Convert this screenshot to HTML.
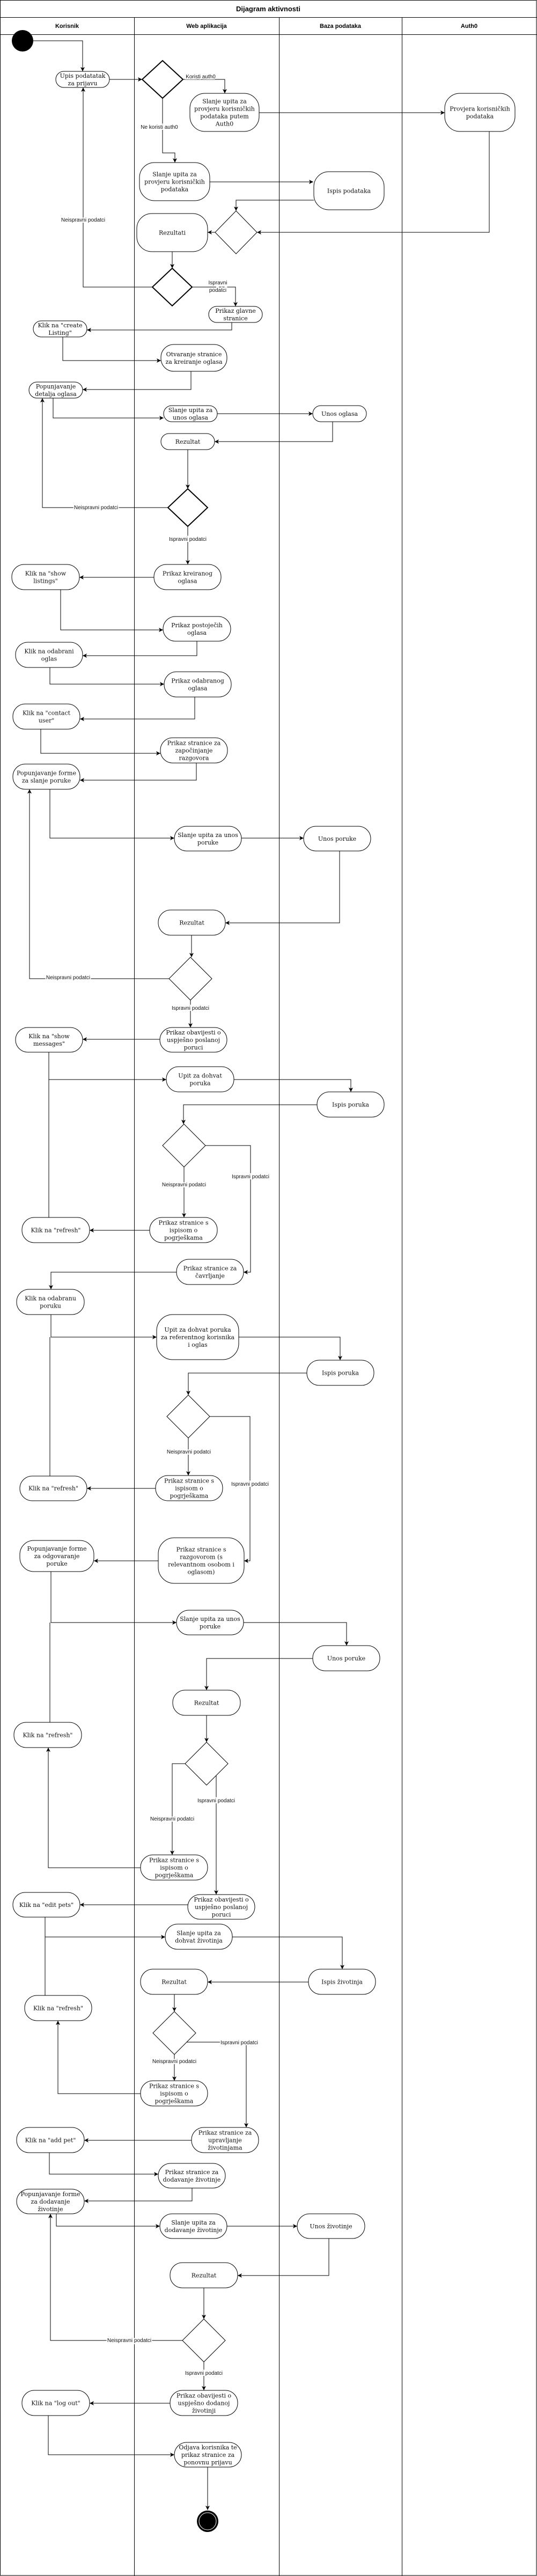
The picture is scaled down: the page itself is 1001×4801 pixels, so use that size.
<!DOCTYPE html>
<html><head><meta charset="utf-8"><style>
html,body{margin:0;padding:0;background:#fff;}
svg{display:block;}
.n{fill:#fff;stroke:#000;stroke-width:1;}
.t{font-family:"DejaVu Serif","Liberation Serif",serif;font-size:11px;text-anchor:middle;fill:#111;}
.e{fill:none;stroke:#000;stroke-width:1;}
.ea{fill:none;stroke:#000;stroke-width:1;marker-end:url(#a);}
.l{font-family:"Liberation Sans",sans-serif;font-size:10px;text-anchor:middle;fill:#111;paint-order:stroke;stroke:#fff;stroke-width:4px;}
.h{font-family:"Liberation Sans",sans-serif;font-weight:bold;text-anchor:middle;fill:#000;}
</style></head><body>
<svg width="1001" height="4801" viewBox="0 0 1001 4801" xmlns="http://www.w3.org/2000/svg">
<defs><marker id="a" markerUnits="userSpaceOnUse" markerWidth="10" markerHeight="10" refX="8" refY="4" orient="auto"><path d="M0,0 L8,4 L0,8 L2,4 z" fill="#000"/></marker></defs>
<rect x="0.5" y="0.5" width="999.5" height="4799.5" fill="#fff" stroke="#000"/>
<line x1="0" y1="32.5" x2="1001" y2="32.5" stroke="#000"/>
<line x1="0" y1="64.5" x2="1001" y2="64.5" stroke="#000"/>
<line x1="250.5" y1="32" x2="250.5" y2="4801" stroke="#000"/>
<line x1="520.5" y1="32" x2="520.5" y2="4801" stroke="#000"/>
<line x1="749.5" y1="32" x2="749.5" y2="4801" stroke="#000"/>
<text class="h" x="500" y="21" font-size="13">Dijagram aktivnosti</text>
<text class="h" x="125" y="52" font-size="11">Korisnik</text>
<text class="h" x="385" y="52" font-size="11">Web aplikacija</text>
<text class="h" x="634.5" y="52" font-size="11">Baza podataka</text>
<text class="h" x="874.5" y="52" font-size="11">Auth0</text>

<circle cx="42" cy="76" r="20" fill="#000"/>

<!-- edges -->
<polyline class="ea" points="62,76 154,76 154,133"/>
<polyline class="ea" points="204,148 265,148"/>
<polyline class="ea" points="341,148 419,148 419,174"/>
<polyline class="ea" points="303,183 303,285 326,285 326,303"/>
<polyline class="ea" points="483,210 829,210"/>
<polyline class="ea" points="391,339 584,339"/>
<polyline class="ea" points="585,373 440,373 440,393"/>
<polyline class="ea" points="912,245 912,433 479,433"/>
<polyline class="ea" points="401,433 387,433"/>
<polyline class="ea" points="321,469 321,500"/>
<polyline class="ea" points="284,535 155,535 155,163"/>
<polyline class="ea" points="359,535 439,535 439,571"/>
<polyline class="ea" points="432,601 432,615 162,615"/>
<polyline class="ea" points="117,628 117,672 300,672"/>
<polyline class="ea" points="356,692 356,726 154,726"/>
<polyline class="ea" points="99,742 99,779 305,779"/>
<polyline class="ea" points="405,771 583,771"/>
<polyline class="ea" points="620,786 620,823 400,823"/>
<polyline class="ea" points="350,838 350,911"/>
<polyline class="ea" points="314,946 79,946 79,742"/>
<polyline class="ea" points="350,980 350,1052"/>
<polyline class="ea" points="287,1076 148,1076"/>
<polyline class="ea" points="113,1099 113,1174 304,1174"/>
<polyline class="ea" points="367,1195 367,1222 154,1222"/>
<polyline class="ea" points="93,1244 93,1275 306,1275"/>
<polyline class="ea" points="363,1299 363,1340 149,1340"/>
<polyline class="ea" points="76,1359 76,1404 299,1404"/>
<polyline class="ea" points="366,1422 366,1454 149,1454"/>
<polyline class="ea" points="93,1471 93,1562 325,1562"/>
<polyline class="ea" points="450,1562 566,1562"/>
<polyline class="ea" points="633,1586 633,1720 420,1720"/>
<polyline class="ea" points="357,1743 357,1784"/>
<polyline class="ea" points="315,1824 55,1824 55,1471"/>
<polyline class="ea" points="355,1864 355,1915"/>
<polyline class="ea" points="298,1937 154,1937"/>
<polyline class="ea" points="91,1961 91,2012 310,2012"/>
<polyline class="e" points="91,2269 91,2012"/>
<polyline class="ea" points="436,2012 654,2012 654,2035"/>
<polyline class="ea" points="591,2059 342,2059 342,2095"/>
<polyline class="ea" points="383,2135 467,2135 467,2371 454,2371"/>
<polyline class="ea" points="343,2175 343,2269"/>
<polyline class="ea" points="279,2293 167,2293"/>
<polyline class="ea" points="329,2371 95,2371 95,2403"/>
<polyline class="ea" points="95,2450 95,2492 292,2492"/>
<polyline class="e" points="93,2751 93,2492"/>
<polyline class="ea" points="445,2492 634,2492 634,2535"/>
<polyline class="ea" points="572,2559 351,2559 351,2600"/>
<polyline class="ea" points="351,2680 351,2750"/>
<polyline class="ea" points="391,2640 466,2640 466,2909 455,2909"/>
<polyline class="ea" points="290,2774 162,2774"/>
<polyline class="ea" points="295,2909 175,2909"/>
<polyline class="ea" points="95,2929 95,3024 329,3024"/>
<polyline class="e" points="93,3024 93,3210"/>
<polyline class="ea" points="454,3024 646,3024 646,3067"/>
<polyline class="ea" points="583,3091 385,3091 385,3150"/>
<polyline class="ea" points="385,3197 385,3247"/>
<polyline class="ea" points="345,3287 321,3287 321,3457"/>
<polyline class="ea" points="403,3309 403,3531"/>
<polyline class="ea" points="262,3481 90,3481 90,3257"/>
<polyline class="ea" points="350,3550 149,3550"/>
<polyline class="ea" points="84,3573 84,3610 308,3610"/>
<polyline class="e" points="84,3610 84,3719"/>
<polyline class="ea" points="433,3610 638,3610 638,3670"/>
<polyline class="ea" points="575,3694 387,3694"/>
<polyline class="ea" points="325,3717 325,3749"/>
<polyline class="ea" points="348,3806 459,3806 459,3965"/>
<polyline class="ea" points="325,3829 325,3878"/>
<polyline class="ea" points="262,3902 108,3902 108,3766"/>
<polyline class="ea" points="357,3989 157,3989"/>
<polyline class="ea" points="92,4012 92,4052 295,4052"/>
<polyline class="ea" points="358,4078 358,4102 157,4102"/>
<polyline class="ea" points="105,4126 105,4149 298,4149"/>
<polyline class="ea" points="423,4149 554,4149"/>
<polyline class="ea" points="613,4172 613,4241 443,4241"/>
<polyline class="ea" points="380,4264 380,4322"/>
<polyline class="ea" points="341,4362 94,4362 94,4126"/>
<polyline class="ea" points="380,4402 380,4455"/>
<polyline class="ea" points="317,4479 167,4479"/>
<polyline class="ea" points="90,4502 90,4575 325,4575"/>
<polyline class="ea" points="387,4598 387,4678"/>

<!-- edge labels -->
<text class="l" x="374" y="146">Koristi auth0</text>
<text class="l" x="297" y="240">Ne koristi auth0</text>
<text class="l" x="155" y="413">Neispravni podatci</text>
<text class="l" x="406" y="530">Ispravni</text>
<text class="l" x="406" y="544">podatci</text>
<text class="l" x="179" y="949">Neispravni podatci</text>
<text class="l" x="350" y="1008">Ispravni podatci</text>
<text class="l" x="127" y="1825">Neispravni podatci</text>
<text class="l" x="355" y="1882">Ispravni podatci</text>
<text class="l" x="467" y="2196">Ispravni podatci</text>
<text class="l" x="343" y="2211">Neispravni podatci</text>
<text class="l" x="352" y="2709">Neispravni podatci</text>
<text class="l" x="466" y="2769">Ispravni podatci</text>
<text class="l" x="321" y="3393">Neispravni podatci</text>
<text class="l" x="403" y="3359">Ispravni podatci</text>
<text class="l" x="446" y="3810">Ispravni podatci</text>
<text class="l" x="325" y="3845">Neispravni podatci</text>
<text class="l" x="241" y="4365">Neispravni podatci</text>
<text class="l" x="380" y="4426">Ispravni podatci</text>

<!-- diamonds -->
<polygon points="303,113 341,148 303,183 265,148" fill="#fff" stroke="#000" stroke-width="2"/>
<polygon points="440,393 479,433 440,473 401,433" fill="#fff" stroke="#000" stroke-width="1"/>
<polygon points="321,500 358,535 321,570 284,535" fill="#fff" stroke="#000" stroke-width="2"/>
<polygon points="350,911 387,946 350,981 313,946" fill="#fff" stroke="#000" stroke-width="2"/>
<polygon points="355,1784 395,1824 355,1864 315,1824" fill="#fff" stroke="#000" stroke-width="1"/>
<polygon points="343,2095 383,2135 343,2175 303,2135" fill="#fff" stroke="#000" stroke-width="1"/>
<polygon points="351,2600 391,2640 351,2680 311,2640" fill="#fff" stroke="#000" stroke-width="1"/>
<polygon points="385,3247 425,3287 385,3327 345,3287" fill="#fff" stroke="#000" stroke-width="1"/>
<polygon points="325,3749 365,3789 325,3829 285,3789" fill="#fff" stroke="#000" stroke-width="1"/>
<polygon points="380,4322 420,4362 380,4402 340,4362" fill="#fff" stroke="#000" stroke-width="1"/>

<!-- nodes -->
<rect class="n" x="104" y="133" width="100" height="30" rx="15"/><text class="t" x="154" y="145" font-size="12"><tspan x="154">Upis podatatak</tspan><tspan x="154" dy="14">za prijavu</tspan></text>
<rect class="n" x="354" y="174" width="129" height="71" rx="28"/><text class="t" x="418.5" y="192.5"><tspan x="418.5">Slanje upita za</tspan><tspan x="418.5" dy="14">provjeru korisničkih</tspan><tspan x="418.5" dy="14">podataka putem</tspan><tspan x="418.5" dy="14">Auth0</tspan></text>
<rect class="n" x="829" y="174" width="131" height="71" rx="28"/><text class="t" x="894.5" y="206.5"><tspan x="894.5">Provjera korisničkih</tspan><tspan x="894.5" dy="14">podataka</tspan></text>
<rect class="n" x="260" y="303" width="131" height="71" rx="28"/><text class="t" x="325.5" y="328.5"><tspan x="325.5">Slanje upita za</tspan><tspan x="325.5" dy="14">provjeru korisničkih</tspan><tspan x="325.5" dy="14">podataka</tspan></text>
<rect class="n" x="585" y="320" width="131" height="71" rx="28"/><text class="t" x="650.5" y="359.5">Ispis podataka</text>
<rect class="n" x="255" y="398" width="132" height="71" rx="28"/><text class="t" x="321" y="437.5">Rezultati</text>
<rect class="n" x="389" y="571" width="100" height="30" rx="15"/><text class="t" x="439" y="583"><tspan x="439">Prikaz glavne</tspan><tspan x="439" dy="14">stranice</tspan></text>
<rect class="n" x="62" y="598" width="100" height="30" rx="15"/><text class="t" x="112" y="610"><tspan x="112">Klik na "create</tspan><tspan x="112" dy="14">Listing"</tspan></text>
<rect class="n" x="300" y="642" width="123" height="50" rx="24"/><text class="t" x="361.5" y="664"><tspan x="361.5">Otvaranje stranice</tspan><tspan x="361.5" dy="14">za kreiranje oglasa</tspan></text>
<rect class="n" x="54" y="712" width="100" height="30" rx="15"/><text class="t" x="104" y="724"><tspan x="104">Popunjavanje</tspan><tspan x="104" dy="14">detalja oglasa</tspan></text>
<rect class="n" x="305" y="756" width="100" height="30" rx="15"/><text class="t" x="355" y="768"><tspan x="355">Slanje upita za</tspan><tspan x="355" dy="14">unos oglasa</tspan></text>
<rect class="n" x="583" y="756" width="100" height="30" rx="15"/><text class="t" x="633" y="775">Unos oglasa</text>
<rect class="n" x="300" y="808" width="100" height="30" rx="15"/><text class="t" x="350" y="827">Rezultat</text>
<rect class="n" x="287" y="1052" width="125" height="47" rx="23"/><text class="t" x="349.5" y="1072.5"><tspan x="349.5">Prikaz kreiranog</tspan><tspan x="349.5" dy="14">oglasa</tspan></text>
<rect class="n" x="22" y="1052" width="126" height="47" rx="23"/><text class="t" x="85" y="1072.5"><tspan x="85">Klik na "show</tspan><tspan x="85" dy="14">listings"</tspan></text>
<rect class="n" x="304" y="1149" width="126" height="46" rx="23"/><text class="t" x="367" y="1169"><tspan x="367">Prikaz postoječih</tspan><tspan x="367" dy="14">oglasa</tspan></text>
<rect class="n" x="29" y="1197" width="125" height="47" rx="23"/><text class="t" x="91.5" y="1217.5"><tspan x="91.5">Klik na odabrani</tspan><tspan x="91.5" dy="14">oglas</tspan></text>
<rect class="n" x="306" y="1252" width="125" height="47" rx="23"/><text class="t" x="368.5" y="1272.5"><tspan x="368.5">Prikaz odabranog</tspan><tspan x="368.5" dy="14">oglasa</tspan></text>
<rect class="n" x="24" y="1312" width="125" height="47" rx="23"/><text class="t" x="86.5" y="1332.5"><tspan x="86.5">Klik na "contact</tspan><tspan x="86.5" dy="14">user"</tspan></text>
<rect class="n" x="299" y="1375" width="125" height="47" rx="23"/><text class="t" x="361.5" y="1388.5"><tspan x="361.5">Prikaz stranice za</tspan><tspan x="361.5" dy="14">započinjanje</tspan><tspan x="361.5" dy="14">razgovora</tspan></text>
<rect class="n" x="24" y="1424" width="125" height="47" rx="23"/><text class="t" x="86.5" y="1444.5"><tspan x="86.5">Popunjavanje forme</tspan><tspan x="86.5" dy="14">za slanje poruke</tspan></text>
<rect class="n" x="325" y="1540" width="125" height="46" rx="23"/><text class="t" x="387.5" y="1560"><tspan x="387.5">Slanje upita za unos</tspan><tspan x="387.5" dy="14">poruke</tspan></text>
<rect class="n" x="566" y="1540" width="125" height="46" rx="23"/><text class="t" x="628.5" y="1567">Unos poruke</text>
<rect class="n" x="295" y="1696" width="125" height="47" rx="23"/><text class="t" x="357.5" y="1723.5">Rezultat</text>
<rect class="n" x="298" y="1915" width="125" height="46" rx="23"/><text class="t" x="360.5" y="1928"><tspan x="360.5">Prikaz obavijesti o</tspan><tspan x="360.5" dy="14">uspješno poslanoj</tspan><tspan x="360.5" dy="14">poruci</tspan></text>
<rect class="n" x="29" y="1915" width="125" height="46" rx="23"/><text class="t" x="91.5" y="1935"><tspan x="91.5">Klik na "show</tspan><tspan x="91.5" dy="14">messages"</tspan></text>
<rect class="n" x="310" y="1988" width="126" height="47" rx="23"/><text class="t" x="373" y="2008.5"><tspan x="373">Upit za dohvat</tspan><tspan x="373" dy="14">poruka</tspan></text>
<rect class="n" x="591" y="2035" width="125" height="47" rx="23"/><text class="t" x="653.5" y="2062.5">Ispis poruka</text>
<rect class="n" x="279" y="2269" width="126" height="47" rx="23"/><text class="t" x="342" y="2282.5"><tspan x="342">Prikaz stranice s</tspan><tspan x="342" dy="14">ispisom o</tspan><tspan x="342" dy="14">pogrješkama</tspan></text>
<rect class="n" x="41" y="2269" width="126" height="47" rx="23"/><text class="t" x="104" y="2296.5">Klik na "refresh"</text>
<rect class="n" x="329" y="2347" width="125" height="47" rx="23"/><text class="t" x="391.5" y="2367.5"><tspan x="391.5">Prikaz stranice za</tspan><tspan x="391.5" dy="14">čavrljanje</tspan></text>
<rect class="n" x="31" y="2403" width="126" height="47" rx="23"/><text class="t" x="94" y="2423.5"><tspan x="94">Klik na odabranu</tspan><tspan x="94" dy="14">poruku</tspan></text>
<rect class="n" x="292" y="2450" width="153" height="84" rx="30"/><text class="t" x="368.5" y="2482"><tspan x="368.5">Upit za dohvat poruka</tspan><tspan x="368.5" dy="14">za referentnog korisnika</tspan><tspan x="368.5" dy="14">i oglas</tspan></text>
<rect class="n" x="572" y="2535" width="125" height="47" rx="23"/><text class="t" x="634.5" y="2562.5">Ispis poruka</text>
<rect class="n" x="290" y="2750" width="125" height="47" rx="23"/><text class="t" x="352.5" y="2763.5"><tspan x="352.5">Prikaz stranice s</tspan><tspan x="352.5" dy="14">ispisom o</tspan><tspan x="352.5" dy="14">pogrješkama</tspan></text>
<rect class="n" x="37" y="2751" width="125" height="46" rx="23"/><text class="t" x="99.5" y="2777.5">Klik na "refresh"</text>
<rect class="n" x="295" y="2866" width="160" height="85" rx="30"/><text class="t" x="375" y="2891.5"><tspan x="375">Prikaz stranice s</tspan><tspan x="375" dy="14">razgovorom (s</tspan><tspan x="375" dy="14">relevantnom osobom i</tspan><tspan x="375" dy="14">oglasom)</tspan></text>
<rect class="n" x="37" y="2871" width="138" height="58" rx="26"/><text class="t" x="106" y="2890"><tspan x="106">Popunjavanje forme</tspan><tspan x="106" dy="14">za odgovaranje</tspan><tspan x="106" dy="14">poruke</tspan></text>
<rect class="n" x="329" y="3001" width="125" height="46" rx="23"/><text class="t" x="391.5" y="3021"><tspan x="391.5">Slanje upita za unos</tspan><tspan x="391.5" dy="14">poruke</tspan></text>
<rect class="n" x="583" y="3067" width="125" height="47" rx="23"/><text class="t" x="645.5" y="3094.5">Unos poruke</text>
<rect class="n" x="322" y="3150" width="126" height="47" rx="23"/><text class="t" x="385" y="3177.5">Rezultat</text>
<rect class="n" x="26" y="3210" width="126" height="47" rx="23"/><text class="t" x="89" y="3237.5">Klik na "refresh"</text>
<rect class="n" x="262" y="3457" width="125" height="47" rx="23"/><text class="t" x="324.5" y="3470.5"><tspan x="324.5">Prikaz stranice s</tspan><tspan x="324.5" dy="14">ispisom o</tspan><tspan x="324.5" dy="14">pogrješkama</tspan></text>
<rect class="n" x="350" y="3531" width="125" height="46" rx="23"/><text class="t" x="412.5" y="3544"><tspan x="412.5">Prikaz obavijesti o</tspan><tspan x="412.5" dy="14">uspješno poslanoj</tspan><tspan x="412.5" dy="14">poruci</tspan></text>
<rect class="n" x="24" y="3527" width="125" height="46" rx="23"/><text class="t" x="86.5" y="3554">Klik na "edit pets"</text>
<rect class="n" x="308" y="3586" width="125" height="47" rx="23"/><text class="t" x="370.5" y="3606.5"><tspan x="370.5">Slanje upita za</tspan><tspan x="370.5" dy="14">dohvat životinja</tspan></text>
<rect class="n" x="575" y="3670" width="125" height="47" rx="23"/><text class="t" x="637.5" y="3697.5">Ispis životinja</text>
<rect class="n" x="262" y="3670" width="125" height="47" rx="23"/><text class="t" x="324.5" y="3697.5">Rezultat</text>
<rect class="n" x="46" y="3719" width="125" height="47" rx="23"/><text class="t" x="108.5" y="3746.5">Klik na "refresh"</text>
<rect class="n" x="262" y="3878" width="125" height="47" rx="23"/><text class="t" x="324.5" y="3891.5"><tspan x="324.5">Prikaz stranice s</tspan><tspan x="324.5" dy="14">ispisom o</tspan><tspan x="324.5" dy="14">pogrješkama</tspan></text>
<rect class="n" x="357" y="3965" width="125" height="47" rx="23"/><text class="t" x="419.5" y="3978.5"><tspan x="419.5">Prikaz stranice za</tspan><tspan x="419.5" dy="14">upravljanje</tspan><tspan x="419.5" dy="14">životinjama</tspan></text>
<rect class="n" x="31" y="3965" width="126" height="47" rx="23"/><text class="t" x="94" y="3992.5">Klik na "add pet"</text>
<rect class="n" x="295" y="4032" width="125" height="46" rx="23"/><text class="t" x="357.5" y="4052"><tspan x="357.5">Prikaz stranice za</tspan><tspan x="357.5" dy="14">dodavanje životinje</tspan></text>
<rect class="n" x="31" y="4080" width="126" height="46" rx="23"/><text class="t" x="94" y="4093"><tspan x="94">Popunjavanje forme</tspan><tspan x="94" dy="14">za dodavanje</tspan><tspan x="94" dy="14">životinje</tspan></text>
<rect class="n" x="298" y="4126" width="125" height="46" rx="23"/><text class="t" x="360.5" y="4146"><tspan x="360.5">Slanje upita za</tspan><tspan x="360.5" dy="14">dodavanje životinje</tspan></text>
<rect class="n" x="554" y="4126" width="126" height="46" rx="23"/><text class="t" x="617" y="4153">Unos životinje</text>
<rect class="n" x="317" y="4217" width="126" height="47" rx="23"/><text class="t" x="380" y="4244.5">Rezultat</text>
<rect class="n" x="317" y="4455" width="126" height="47" rx="23"/><text class="t" x="380" y="4468.5"><tspan x="380">Prikaz obavijesti o</tspan><tspan x="380" dy="14">uspješno dodanoj</tspan><tspan x="380" dy="14">životinji</tspan></text>
<rect class="n" x="41" y="4455" width="126" height="47" rx="23"/><text class="t" x="104" y="4482.5">Klik na "log out"</text>
<rect class="n" x="325" y="4552" width="125" height="46" rx="23"/><text class="t" x="387.5" y="4565"><tspan x="387.5">Odjava korisnika te</tspan><tspan x="387.5" dy="14">prikaz stranice za</tspan><tspan x="387.5" dy="14">ponovnu prijavu</tspan></text>

<circle cx="387" cy="4699" r="20" fill="#000"/>
<circle cx="387" cy="4699" r="16" fill="none" stroke="#fff" stroke-width="1"/>
</svg>
</body></html>
